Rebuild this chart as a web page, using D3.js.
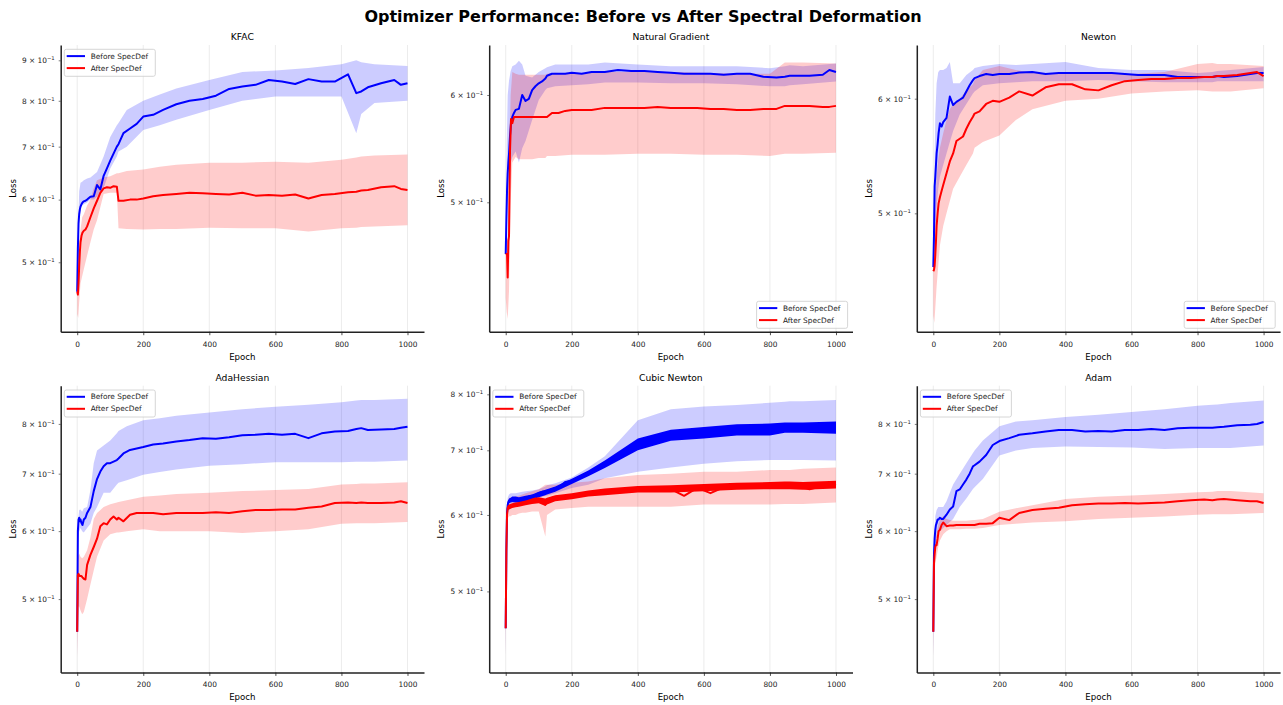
<!DOCTYPE html>
<html>
<head>
<meta charset="utf-8">
<script src="https://cdn.jsdelivr.net/npm/d3@7/dist/d3.min.js"></script>
<style>
body { margin: 0; background: #fff; }
svg { display: block; font-family: "DejaVu Sans", sans-serif; }
</style>
</head>
<body>
<div id="chart"></div>
<script>
// epochs where the mean curves were read, and a coarser grid for the shaded bands
const epochs = [0,2,4,6,8,10,13,16,20,25,30,40,50,60,70,80,90,100,110,120,125,140,160,180,200,230,260,300,340,380,420,460,500,540,580,620,660,700,740,780,820,845,860,880,920,960,980,1000];
const bandEpochs = [0,3,6,10,15,20,30,40,50,60,80,100,120,125,150,200,250,300,400,500,600,700,800,845,860,900,1000];
const xTickValues = [0,200,400,600,800,1000];

const titles = ["KFAC","Natural Gradient","Newton","AdaHessian","Cubic Newton","Adam"];
const seriesNames = ["Before SpecDef","After SpecDef"];
const legendLoc = ["upper left","lower right","lower right","upper left","upper left","upper left"];
const yLimits = [[.4085,.941],[.4013,.6532],[.4142,.6535],[.4107,.8864],[.4122,.8166],[.4107,.8864]];

// KFAC
const kfacBefore = [.459,.52,.56,.575,.583,.588,.592,.595,.597,.598,.600,.605,.606,.626,.618,.643,.657,.672,.686,.700,.705,.728,.738,.748,.764,.768,.779,.792,.800,.804,.812,.828,.834,.838,.850,.846,.840,.852,.846,.846,.864,.818,.822,.832,.842,.850,.838,.842];
const kfacAfter = [.459,.455,.47,.495,.515,.53,.54,.545,.548,.55,.555,.57,.585,.598,.612,.62,.622,.621,.624,.623,.598,.598,.600,.600,.602,.606,.608,.610,.612,.611,.610,.609,.612,.607,.608,.607,.609,.602,.608,.610,.613,.614,.616,.617,.622,.624,.619,.617];
const kfacBeforeLo = [.455,.50,.57,.585,.59,.592,.595,.60,.60,.605,.62,.657,.68,.69,.70,.735,.745,.757,.779,.80,.81,.81,.81,.728,.77,.795,.80];
const kfacBeforeHi = [.47,.56,.615,.63,.632,.635,.638,.64,.645,.65,.68,.72,.745,.75,.779,.80,.815,.829,.85,.87,.874,.88,.89,.90,.895,.89,.885];
const kfacAfterLo = [.43,.425,.445,.47,.48,.49,.51,.53,.55,.565,.61,.612,.612,.552,.551,.55,.551,.551,.553,.552,.552,.547,.552,.553,.554,.555,.557];
const kfacAfterHi = [.47,.50,.53,.55,.57,.575,.59,.60,.62,.635,.64,.642,.648,.648,.652,.655,.66,.664,.668,.668,.670,.668,.674,.678,.68,.682,.684];

// Natural Gradient
const ngBefore = [.458,.485,.51,.525,.535,.543,.56,.572,.578,.582,.585,.586,.60,.594,.596,.605,.609,.612,.614,.617,.62,.622,.622,.622,.623,.622,.624,.624,.626,.625,.625,.624,.623,.622,.622,.622,.621,.622,.622,.619,.618,.619,.620,.620,.620,.621,.626,.624];
const ngAfter = [.458,.458,.458,.44,.468,.472,.545,.576,.572,.578,.578,.578,.578,.578,.578,.578,.578,.578,.578,.578,.578,.582,.582,.584,.585,.585,.585,.587,.587,.587,.587,.588,.587,.587,.587,.586,.586,.585,.585,.586,.586,.589,.589,.589,.589,.588,.588,.589];
const ngBeforeLo = [.455,.47,.50,.52,.535,.54,.545,.535,.548,.555,.575,.595,.605,.607,.609,.610,.611,.613,.613,.612,.612,.611,.609,.609,.61,.611,.614];
const ngBeforeHi = [.48,.55,.60,.615,.625,.63,.632,.636,.632,.62,.618,.624,.628,.629,.632,.632,.632,.634,.632,.630,.630,.630,.628,.630,.631,.630,.633];
const ngAfterLo = [.425,.415,.41,.43,.50,.535,.54,.538,.538,.538,.538,.539,.539,.541,.541,.542,.542,.542,.543,.543,.542,.542,.541,.543,.543,.543,.544];
const ngAfterHi = [.48,.47,.47,.52,.60,.624,.622,.621,.621,.621,.621,.621,.621,.622,.623,.622,.623,.624,.624,.624,.623,.622,.622,.634,.634,.634,.633];

// Newton
const newtonBefore = [.459,.482,.522,.53,.54,.55,.558,.568,.577,.574,.578,.582,.602,.594,.597,.599,.601,.607,.613,.618,.62,.622,.624,.623,.624,.624,.6255,.626,.624,.625,.625,.625,.625,.625,.624,.623,.623,.623,.621,.621,.621,.621,.622,.621,.622,.624,.625,.625];
const newtonAfter = [.456,.457,.46,.468,.478,.49,.50,.508,.513,.518,.523,.533,.543,.55,.561,.563,.565,.572,.578,.583,.586,.588,.595,.598,.597,.601,.607,.603,.611,.614,.614,.609,.608,.613,.617,.618,.619,.619,.620,.620,.621,.621,.622,.622,.623,.625,.626,.622];
const newtonBeforeLo = [.455,.47,.49,.505,.52,.53,.54,.55,.56,.57,.585,.595,.605,.607,.613,.615,.616,.617,.617,.618,.617,.616,.616,.616,.617,.617,.617];
const newtonBeforeHi = [.47,.53,.585,.615,.626,.628,.628,.63,.636,.615,.615,.623,.628,.63,.632,.634,.633,.634,.636,.630,.628,.628,.625,.626,.627,.628,.631];
const newtonAfterLo = [.425,.42,.43,.445,.46,.475,.49,.50,.51,.52,.53,.54,.55,.555,.56,.566,.58,.59,.598,.600,.605,.607,.608,.607,.607,.607,.610];
const newtonAfterHi = [.47,.48,.50,.53,.545,.555,.568,.58,.59,.595,.60,.608,.614,.618,.628,.632,.628,.625,.625,.624,.624,.626,.634,.635,.634,.634,.632];

// AdaHessian
const adahBefore = [.458,.60,.619,.622,.616,.619,.613,.61,.619,.622,.63,.64,.668,.69,.704,.714,.72,.72,.723,.726,.729,.739,.746,.749,.752,.757,.759,.763,.766,.770,.769,.772,.776,.777,.779,.777,.779,.770,.780,.784,.785,.789,.791,.787,.788,.789,.792,.794];
const adahAfter = [.458,.533,.535,.533,.532,.532,.532,.530,.528,.527,.548,.563,.575,.588,.608,.613,.611,.619,.624,.619,.622,.616,.627,.63,.63,.63,.628,.63,.63,.63,.631,.63,.633,.635,.635,.636,.636,.639,.641,.647,.648,.647,.648,.647,.647,.648,.65,.647];
const adahBeforeLo = [.426,.59,.60,.605,.60,.598,.605,.612,.63,.64,.665,.665,.68,.683,.688,.698,.703,.708,.715,.718,.722,.722,.722,.723,.723,.723,.725];
const adahBeforeHi = [.46,.62,.635,.636,.632,.638,.64,.67,.72,.745,.755,.765,.78,.785,.795,.808,.812,.818,.825,.832,.838,.842,.848,.852,.853,.853,.856];
const adahAfterLo = [.426,.49,.49,.485,.48,.483,.50,.52,.54,.56,.585,.595,.598,.598,.60,.603,.60,.60,.60,.597,.60,.603,.612,.613,.613,.613,.615];
const adahAfterHi = [.46,.56,.565,.56,.558,.56,.57,.59,.62,.63,.64,.645,.648,.649,.652,.658,.66,.663,.665,.668,.67,.672,.68,.681,.682,.682,.684];

// Cubic Newton
const cubicBefore = [.458,.55,.604,.614,.619,.621,.621,.621,.624,.624,.624,.621,.623,.624,.627,.628,.629,.632,.634,.634,.635,.638,.641,.649,.651,.659,.666,.678,.686,.706,.715,.72,.726,.729,.729,.733,.735,.738,.739,.738,.737,.742,.742,.744,.743,.744,.744,.744];
const cubicAfter = [.458,.55,.60,.61,.612,.612,.613,.614,.614,.614,.615,.616,.617,.618,.62,.622,.624,.622,.62,.615,.62,.625,.627,.626,.628,.63,.633,.634,.636,.638,.638,.64,.638,.628,.64,.632,.641,.642,.64,.643,.642,.645,.644,.642,.638,.643,.646,.644];
const cubicBeforeLo = [.426,.55,.60,.607,.61,.612,.614,.615,.617,.618,.62,.625,.628,.628,.632,.64,.645,.655,.665,.672,.678,.682,.684,.684,.684,.684,.683];
const cubicBeforeHi = [.46,.60,.625,.63,.632,.632,.632,.633,.634,.635,.636,.638,.642,.644,.647,.656,.672,.69,.752,.772,.777,.78,.784,.786,.787,.787,.789];
const cubicAfterLo = [.426,.55,.595,.598,.598,.60,.60,.602,.603,.603,.605,.605,.57,.60,.608,.61,.612,.612,.612,.612,.615,.615,.615,.616,.616,.616,.618];
const cubicAfterHi = [.46,.60,.62,.625,.625,.626,.627,.628,.63,.632,.635,.638,.645,.645,.645,.648,.65,.655,.66,.662,.665,.665,.668,.668,.668,.67,.672];
// Cubic Newton curves oscillate fast: range swept by each mean line
const cubicBeforeSwingLo = [.458,.58,.61,.617,.618,.619,.618,.618,.619,.62,.622,.626,.629,.630,.634,.646,.658,.671,.70,.716,.72,.725,.725,.73,.73,.73,.728];
const cubicBeforeSwingHi = [.458,.60,.618,.624,.625,.627,.627,.626,.627,.628,.630,.634,.637,.638,.642,.654,.667,.683,.72,.735,.74,.745,.746,.748,.748,.748,.75];
const cubicAfterSwingLo = [.458,.58,.607,.608,.609,.61,.611,.612,.613,.614,.616,.617,.613,.615,.62,.623,.627,.629,.633,.633,.635,.637,.638,.638,.638,.637,.639];
const cubicAfterSwingHi = [.458,.60,.614,.615,.616,.617,.618,.619,.62,.621,.624,.626,.624,.625,.629,.632,.636,.639,.643,.644,.646,.648,.649,.65,.65,.649,.651];

// Adam
const adamBefore = [.458,.564,.588,.602,.61,.613,.619,.619,.622,.62,.62,.627,.636,.641,.668,.671,.68,.689,.70,.714,.716,.723,.736,.756,.764,.77,.777,.78,.784,.787,.787,.784,.785,.784,.787,.787,.789,.787,.791,.792,.792,.792,.793,.794,.797,.798,.80,.804];
const adamAfter = [.458,.55,.564,.575,.578,.578,.588,.60,.602,.61,.614,.608,.609,.609,.61,.61,.61,.61,.61,.61,.61,.612,.612,.613,.622,.618,.63,.635,.637,.639,.643,.645,.646,.646,.647,.646,.647,.648,.65,.652,.653,.652,.653,.654,.652,.65,.65,.647];
const adamBeforeLo = [.426,.52,.57,.59,.60,.60,.605,.61,.615,.62,.64,.655,.672,.675,.69,.735,.745,.75,.753,.752,.751,.748,.75,.75,.75,.75,.755];
const adamBeforeHi = [.46,.59,.625,.635,.64,.64,.64,.65,.665,.68,.70,.72,.74,.745,.765,.795,.805,.808,.815,.82,.826,.832,.84,.842,.843,.846,.852];
const adamAfterLo = [.426,.53,.55,.56,.575,.585,.595,.60,.603,.603,.603,.604,.604,.604,.605,.61,.612,.614,.616,.62,.622,.624,.627,.628,.628,.628,.63];
const adamAfterHi = [.46,.56,.585,.595,.61,.618,.625,.62,.618,.617,.617,.617,.618,.618,.62,.632,.638,.643,.654,.658,.66,.663,.666,.667,.668,.668,.664];

const panels = [
  {mean: [kfacBefore, kfacAfter], lo: [kfacBeforeLo, kfacAfterLo], hi: [kfacBeforeHi, kfacAfterHi]},
  {mean: [ngBefore, ngAfter], lo: [ngBeforeLo, ngAfterLo], hi: [ngBeforeHi, ngAfterHi]},
  {mean: [newtonBefore, newtonAfter], lo: [newtonBeforeLo, newtonAfterLo], hi: [newtonBeforeHi, newtonAfterHi]},
  {mean: [adahBefore, adahAfter], lo: [adahBeforeLo, adahAfterLo], hi: [adahBeforeHi, adahAfterHi]},
  {mean: [cubicBefore, cubicAfter], lo: [cubicBeforeLo, cubicAfterLo], hi: [cubicBeforeHi, cubicAfterHi],
   swingLo: [cubicBeforeSwingLo, cubicAfterSwingLo], swingHi: [cubicBeforeSwingHi, cubicAfterSwingHi]},
  {mean: [adamBefore, adamAfter], lo: [adamBeforeLo, adamAfterLo], hi: [adamBeforeHi, adamAfterHi]}
];

const W = 1283, H = 705;
const colLeft = [60.7, 489.2, 916.8], rowTop = [45, 385.7];
const pw = 363.3, ph = 286.7;
const colors = ["#0000ff", "#ff0000"];
const ink = "#222";

const svg = d3.select("#chart").append("svg")
    .attr("width", W).attr("height", H);

svg.append("text")
    .attr("x", 643).attr("y", 21.5)
    .attr("text-anchor", "middle")
    .attr("font-weight", "bold")
    .attr("font-size", 16)
    .attr("fill", "#000")
    .text("Optimizer Performance: Before vs After Spectral Deformation");

panels.forEach((p, i) => {
    const g = svg.append("g")
        .attr("transform", `translate(${colLeft[i % 3]},${rowTop[Math.floor(i / 3)]})`);
    const x = d3.scaleLinear().domain([-50, 1050]).range([0, pw]);
    const y = d3.scaleLog().domain(yLimits[i]).range([ph, 0]);

    g.append("clipPath").attr("id", "clip" + i)
        .append("rect").attr("width", pw).attr("height", ph);

    // vertical grid
    g.append("g").selectAll("line")
        .data(xTickValues)
        .join("line")
        .attr("x1", d => x(d)).attr("x2", d => x(d))
        .attr("y1", 0).attr("y2", ph)
        .attr("stroke", "#b0b0b0")
        .attr("stroke-opacity", 0.3)
        .attr("stroke-width", 0.8);

    const plot = g.append("g").attr("clip-path", `url(#clip${i})`);

    // shaded bands
    [0, 1].forEach(s => {
        const area = d3.area()
            .x((d, k) => x(bandEpochs[k]))
            .y0((d, k) => y(p.lo[s][k]))
            .y1((d, k) => y(p.hi[s][k]));
        plot.append("path")
            .datum(bandEpochs)
            .attr("d", area)
            .attr("fill", colors[s])
            .attr("fill-opacity", 0.2);
    });

    // mean lines (plus the swept range where the curve oscillates)
    [0, 1].forEach(s => {
        if (p.swingLo) {
            const swing = d3.area()
                .x((d, k) => x(bandEpochs[k]))
                .y0((d, k) => y(p.swingLo[s][k]))
                .y1((d, k) => y(p.swingHi[s][k]));
            plot.append("path")
                .datum(bandEpochs)
                .attr("d", swing)
                .attr("fill", colors[s]);
        }
        const line = d3.line()
            .x((d, k) => x(epochs[k]))
            .y(d => y(d));
        plot.append("path")
            .datum(p.mean[s])
            .attr("d", line)
            .attr("fill", "none")
            .attr("stroke", colors[s])
            .attr("stroke-width", 2)
            .attr("stroke-linejoin", "round");
    });

    // x axis
    const xa = g.append("g")
        .attr("transform", `translate(0,${ph})`)
        .call(d3.axisBottom(x).tickValues(xTickValues).tickFormat(d3.format("d"))
            .tickSize(3.5).tickSizeOuter(0).tickPadding(6.3));
    xa.select(".domain").attr("stroke", ink).attr("stroke-width", 1.5);
    xa.selectAll(".tick line").attr("stroke", ink).attr("stroke-width", 0.8);
    xa.selectAll(".tick text").attr("fill", ink);
    xa.attr("font-size", 7.4).attr("font-family", null);

    // y axis (log, labelled minor ticks)
    const lim = yLimits[i];
    const yTicks = d3.range(1, 10).map(k => k / 10).filter(v => v >= lim[0] && v <= lim[1]);
    const ya = g.append("g")
        .call(d3.axisLeft(y).tickValues(yTicks).tickSize(2).tickSizeOuter(0).tickPadding(4).tickFormat(() => ""));
    ya.select(".domain").attr("stroke", ink).attr("stroke-width", 1.5);
    ya.selectAll(".tick line").attr("stroke", ink).attr("stroke-width", 0.6);
    ya.attr("font-size", 7.4).attr("font-family", null);
    ya.selectAll(".tick text").attr("fill", ink).each(function(d) {
        const t = d3.select(this);
        t.append("tspan").text(`${Math.round(d * 10)} \u00d7 10`);
        t.append("tspan").attr("dy", -3).attr("font-size", 5.3).text("\u22121");
    });

    // titles and labels
    g.append("text")
        .attr("x", pw / 2).attr("y", -5)
        .attr("text-anchor", "middle")
        .attr("font-size", 9.2).attr("fill", "#000")
        .text(titles[i]);
    g.append("text")
        .attr("x", pw / 2).attr("y", ph + 28)
        .attr("text-anchor", "middle")
        .attr("font-size", 8.6).attr("fill", "#000")
        .text("Epoch");
    g.append("text")
        .attr("transform", `translate(-45,${ph / 2}) rotate(-90)`)
        .attr("text-anchor", "middle")
        .attr("font-size", 8.6).attr("fill", "#000")
        .text("Loss");

    // legend
    const bw = 91, bh = 27;
    const bx = legendLoc[i] === "upper left" ? 3.6 : pw - 4.9 - bw;
    const by = legendLoc[i] === "upper left" ? 4.3 : ph - 3.4 - bh;
    const lg = g.append("g").attr("transform", `translate(${bx},${by})`);
    lg.append("rect")
        .attr("width", bw).attr("height", bh)
        .attr("rx", 2)
        .attr("fill", "#fff").attr("fill-opacity", 0.8)
        .attr("stroke", "#cccccc").attr("stroke-width", 0.8);
    seriesNames.forEach((name, s) => {
        const ly = 6.8 + s * 12;
        lg.append("line")
            .attr("x1", 2.4).attr("x2", 20.7)
            .attr("y1", ly).attr("y2", ly)
            .attr("stroke", colors[s]).attr("stroke-width", 2);
        lg.append("text")
            .attr("x", 26.4).attr("y", ly)
            .attr("dy", "0.35em")
            .attr("font-size", 7.4).attr("fill", ink)
            .text(name);
    });
});
</script>
</body>
</html>
